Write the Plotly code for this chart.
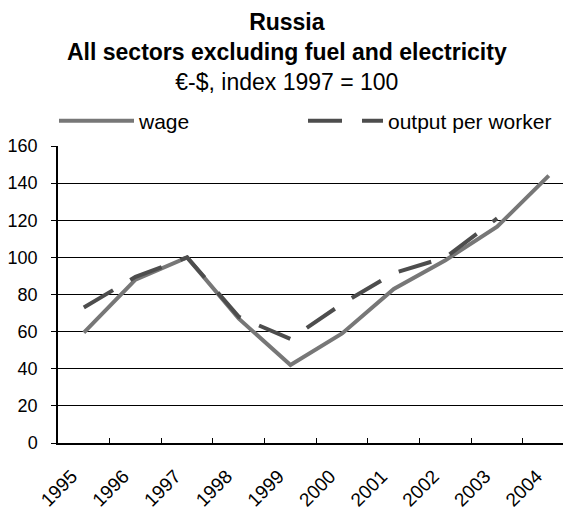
import plotly.graph_objects as go

years = ["1995", "1996", "1997", "1998", "1999", "2000", "2001", "2002", "2003", "2004"]
wage = [59.5, 88, 100, 67, 42, 59, 83, 98.5, 116.5, 144]
output_per_worker = [73, 89.5, 100, 68, 56, 75, 91.5, 100, 121, None]

font_family = "Arial, Liberation Sans, sans-serif"

fig = go.Figure()
fig.add_trace(go.Scatter(x=years, y=wage, mode="lines", name="wage",
                         line=dict(color="#777777", width=4)))
fig.add_trace(go.Scatter(x=years, y=output_per_worker, mode="lines",
                         name="output per worker",
                         line=dict(color="#4d4d4d", width=4, dash="34px,20px")))

# the page puts the figure 8px in from the top-left corner, margins allow for it
fig.update_layout(
    width=571, height=511,
    margin=dict(l=50, r=8, t=138, b=76),
    paper_bgcolor="white", plot_bgcolor="white",
    font=dict(family=font_family, color="black", size=18),
    legend=dict(orientation="h", x=-0.0078, xanchor="left", y=1.084, yanchor="middle",
                entrywidth=159, entrywidthmode="pixels", itemwidth=75,
                font=dict(size=21), bgcolor="rgba(0,0,0,0)"),
    showlegend=True,
)
fig.add_annotation(text="<b>Russia</b><br><b>All sectors excluding fuel and electricity</b>"
                        "<br>€-$, index 1997 = 100",
                   xref="paper", yref="paper", x=0.446, y=1.463,
                   xanchor="center", yanchor="top", showarrow=False,
                   borderpad=0, font=dict(size=23))
fig.update_xaxes(range=[-0.5, 9.43], showline=True, linecolor="black", linewidth=1.5,
                 ticks="inside", ticklen=5, tickcolor="black", tickson="boundaries",
                 tickangle=-45, tickfont=dict(size=19), showgrid=False,
                 ticklabelshift=-12, ticklabelstandoff=13, automargin=False)
fig.update_yaxes(range=[0, 160], dtick=20, showline=True, linecolor="black",
                 linewidth=1.5, gridcolor="black", gridwidth=1, zeroline=False,
                 ticks="outside", ticklen=5, tickcolor="black",
                 ticklabelstandoff=10, tickfont=dict(size=18), automargin=False)

fig.write_html("out.html")
